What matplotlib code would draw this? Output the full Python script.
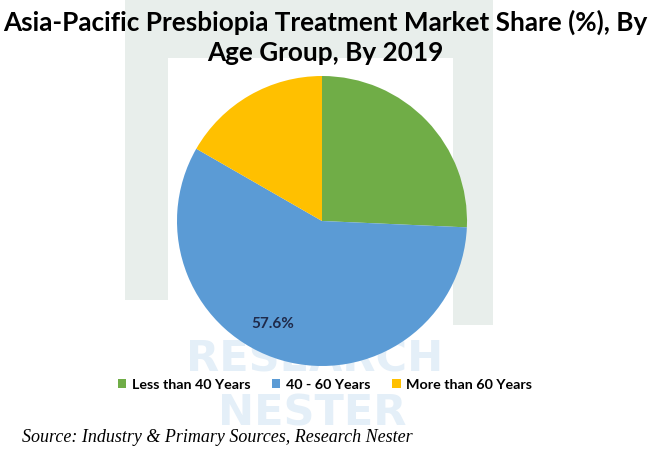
import numpy as np
import matplotlib.pyplot as plt
from matplotlib.patches import Rectangle

# data
age_groups = ["Less than 40 Years", "40 - 60 Years", "More than 60 Years"]
shares = [25.7, 57.6, 16.7]
colors = ["#70ad47", "#5b9bd5", "#ffc000"]
shown_label = "57.6%"

title = "Asia-Pacific Presbiopia Treatment Market Share (%), By\nAge Group, By 2019"
source = "Source: Industry & Primary Sources, Research Nester"

W, H = 650, 450
fig = plt.figure(figsize=(6.5, 4.5), dpi=100)

# faint watermark in the background
bg = fig.add_axes([0, 0, 1, 1], zorder=0)
bg.set_xlim(0, W)
bg.set_ylim(H, 0)
bg.axis("off")
wm = "#e8eeeb"
bg.add_patch(Rectangle((125, 0), 43, 300, color=wm, lw=0))
bg.add_patch(Rectangle((453, 0), 40, 325, color=wm, lw=0))
bg.add_patch(Rectangle((125, 0), 368, 58, color=wm, lw=0))
bg.text(315, 360, "RESEARCH", fontsize=31, fontweight="bold", color="#e4eff8",
        ha="center", va="center", family="DejaVu Sans")
bg.text(312, 413, "NESTER", fontsize=31, fontweight="bold", color="#e4eff8",
        ha="center", va="center", family="DejaVu Sans")

# pie
cx, cy, r = 322, 221, 145
ax = fig.add_axes([(cx - r) / W, (H - cy - r) / H, 2 * r / W, 2 * r / H], zorder=1)
wedges, _ = ax.pie(shares, colors=colors, startangle=90, counterclock=False,
                   radius=1, wedgeprops=dict(linewidth=0))
ax.set_xlim(-1, 1)
ax.set_ylim(-1, 1)
ax.set_aspect("equal")
ax.text(-0.34, -0.71, shown_label, ha="center", va="center", fontsize=11,
        fontweight="bold", color="#1f2a4a", family="Lato")

fig.text(0.5, 1 - 37 / H, title, ha="center", va="center", fontsize=18.8,
         fontweight="bold", family="Lato", linespacing=1.3)

fig.legend(wedges, age_groups, loc="center", bbox_to_anchor=(0.5, 1 - 385 / H),
           ncol=3, frameon=False, handlelength=0.6, handleheight=0.6,
           handletextpad=0.4, columnspacing=1.5,
           prop=dict(family="Lato", weight="bold", size=10.3))

fig.text(22 / W, 1 - 437 / H, source, ha="left", va="center", fontsize=13,
         style="italic", family="Liberation Serif")

plt.savefig("out.png", dpi=100)
